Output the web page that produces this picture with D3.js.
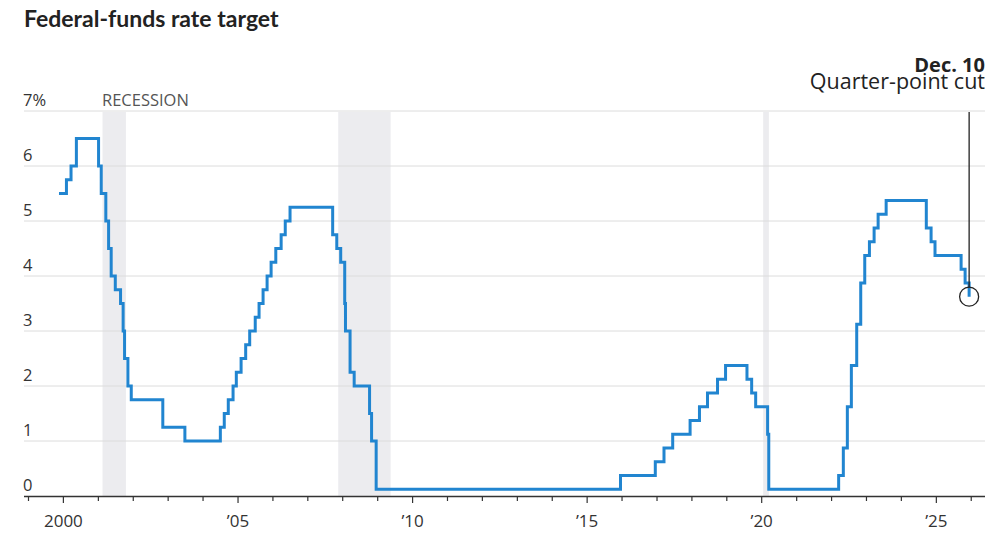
<!DOCTYPE html>
<html><head><meta charset="utf-8">
<script src="https://cdn.jsdelivr.net/npm/d3@7"></script>
<style>
html,body{margin:0;padding:0;background:#fff;}
svg{display:block;}
text{font-family:"Open Sans","Noto Sans",sans-serif;}
</style></head>
<body><svg id="c" width="1000" height="545"></svg>
<script>
// ---- data ----
const rateDates = ["1999-11-16","2000-02-02","2000-03-21","2000-05-16","2001-01-03","2001-01-31","2001-03-20","2001-04-18","2001-05-15","2001-06-27","2001-08-21","2001-09-17","2001-10-02","2001-11-06","2001-12-11","2002-11-06","2003-06-25","2004-06-30","2004-08-10","2004-09-21","2004-11-10","2004-12-14","2005-02-02","2005-03-22","2005-05-03","2005-06-30","2005-08-09","2005-09-20","2005-11-01","2005-12-13","2006-01-31","2006-03-28","2006-05-10","2006-06-29","2007-09-18","2007-10-31","2007-12-11","2008-01-22","2008-01-30","2008-03-18","2008-04-30","2008-10-08","2008-10-29","2008-12-16","2015-12-16","2016-12-14","2017-03-15","2017-06-14","2017-12-13","2018-03-21","2018-06-13","2018-09-26","2018-12-19","2019-07-31","2019-09-18","2019-10-30","2020-03-03","2020-03-15","2022-03-16","2022-05-04","2022-06-15","2022-07-27","2022-09-21","2022-11-02","2022-12-14","2023-02-01","2023-03-22","2023-05-03","2023-07-26","2024-09-18","2024-11-07","2024-12-18","2025-09-17","2025-10-29","2025-12-10"];
const rateValues = [5.5,5.75,6.0,6.5,6.0,5.5,5.0,4.5,4.0,3.75,3.5,3.0,2.5,2.0,1.75,1.25,1.0,1.25,1.5,1.75,2.0,2.25,2.5,2.75,3.0,3.25,3.5,3.75,4.0,4.25,4.5,4.75,5.0,5.25,4.75,4.5,4.25,3.5,3.0,2.25,2.0,1.5,1.0,0.125,0.375,0.625,0.875,1.125,1.375,1.625,1.875,2.125,2.375,2.125,1.875,1.625,1.125,0.125,0.375,0.875,1.625,2.375,3.125,3.875,4.375,4.625,4.875,5.125,5.375,4.875,4.625,4.375,4.125,3.875,3.625];
const recessionStarts = ["2001-03-01","2007-12-01","2020-02-01"];
const recessionEnds = ["2001-11-01","2009-06-01","2020-04-01"];
const yTicks = [0,1,2,3,4,5,6,7];
const xDomain = ["1998-11-15","2026-05-25"];
const title = "Federal-funds rate target";
const annoDate = "2025-12-10";
const annoTitle = "Dec. 10";
const annoText = "Quarter-point cut";

// ---- chart ----
const parse = d3.utcParse("%Y-%m-%d");
const svg = d3.select("#c");
const L = 24, R = 985, T = 111, B = 496;
const x = d3.scaleUtc().domain(xDomain.map(parse)).range([L, R]);
const y = d3.scaleLinear().domain([0, 7]).range([B, T]);

// recessions
const rec = recessionStarts.map((s, i) => ({s: parse(s), e: parse(recessionEnds[i])}));
svg.append("g").selectAll("rect").data(rec).join("rect")
  .attr("x", d => x(d.s) - 1.5).attr("width", d => x(d.e) - x(d.s))
  .attr("y", T + 1).attr("height", B - T - 1)
  .attr("fill", "#ececef");

// gridlines
svg.append("g").selectAll("line").data(yTicks.filter(d => d > 0)).join("line")
  .attr("x1", L).attr("x2", R).attr("y1", d => y(d)).attr("y2", d => y(d))
  .attr("stroke", "#dcdcdc").attr("stroke-width", 1);

// y labels
svg.append("g").selectAll("text").data(yTicks).join("text")
  .attr("x", L - 1).attr("y", d => y(d) - 5)
  .attr("font-size", 16.5).attr("fill", "#333")
  .text(d => d === 7 ? "7%" : d);

svg.append("text").attr("x", x(rec[0].s) - 2).attr("y", y(7) - 5)
  .attr("font-size", 16.5).attr("fill", "#555").text("RECESSION");

// x axis
const xAxis = svg.append("g");
xAxis.append("line").attr("x1", L).attr("x2", R).attr("y1", B + 0.5).attr("y2", B + 0.5)
  .attr("stroke", "#333").attr("stroke-width", 1.5);
const years = d3.utcYear.range(parse("1999-01-01"), parse("2027-01-01")).filter(d => x(d) >= L && x(d) <= R);
xAxis.selectAll("line.t").data(years).join("line").attr("class", "t")
  .attr("x1", d => x(d)).attr("x2", d => x(d))
  .attr("y1", B).attr("y2", d => d.getUTCFullYear() % 5 === 0 ? B + 7 : B + 5)
  .attr("stroke", "#333").attr("stroke-width", 1.2);
xAxis.selectAll("text").data(years.filter(d => d.getUTCFullYear() % 5 === 0)).join("text")
  .attr("x", d => x(d)).attr("y", 527).attr("text-anchor", "middle")
  .attr("font-size", 17).attr("fill", "#333")
  .text(d => d.getUTCFullYear() === 2000 ? "2000" : "\u2019" + String(d.getUTCFullYear()).slice(2));

// line
const pts = rateDates.map((d, i) => ({d: parse(d), v: rateValues[i]}));
svg.append("path").datum(pts)
  .attr("d", d3.line().x(d => x(d.d)).y(d => y(d.v)).curve(d3.curveStepAfter))
  .attr("fill", "none").attr("stroke", "#2185d0").attr("stroke-width", 3)
  .attr("stroke-linejoin", "miter");

// annotation
const ax = x(parse(annoDate)), ay = y(rateValues[rateValues.length - 1]);
svg.append("line").attr("x1", ax).attr("x2", ax).attr("y1", T + 1).attr("y2", ay - 9.5)
  .attr("stroke", "#222").attr("stroke-width", 1.3);
svg.append("circle").attr("cx", ax).attr("cy", ay).attr("r", 9.5)
  .attr("fill", "none").attr("stroke", "#222").attr("stroke-width", 1.3);
svg.append("text").attr("x", R).attr("y", 72).attr("text-anchor", "end")
  .attr("font-size", 20).attr("font-weight", 700).attr("fill", "#222").text(annoTitle);
svg.append("text").attr("x", R).attr("y", 89).attr("text-anchor", "end")
  .attr("font-size", 21.5).attr("fill", "#222").text(annoText);

// title
svg.append("text").attr("x", L).attr("y", 27)
  .attr("font-size", 23).attr("font-weight", 700).attr("fill", "#222")
  .style("font-family", "Lato, 'Open Sans', sans-serif")
  .text(title);
</script></body></html>
